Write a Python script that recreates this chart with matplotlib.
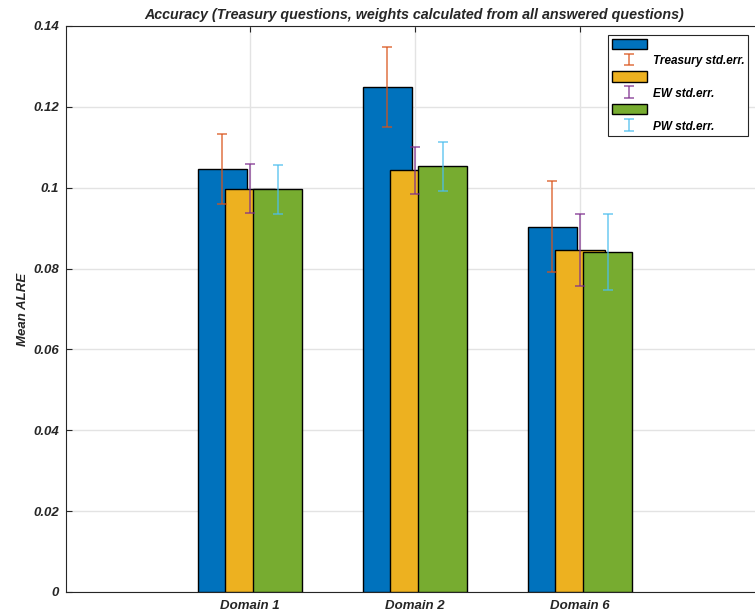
import numpy as np
import matplotlib
matplotlib.use("Agg")
import matplotlib.pyplot as plt
from matplotlib.ticker import FuncFormatter

plt.rcParams['font.family'] = ['Liberation Sans', 'DejaVu Sans']

# Mean ALRE per domain and its standard errors
domains = ['Domain 1', 'Domain 2', 'Domain 6']
treasury = [0.1046, 0.1249, 0.0904]
ew = [0.0998, 0.1043, 0.0846]
pw = [0.0996, 0.1053, 0.0841]
treasury_se = [0.0086, 0.0100, 0.0113]
ew_se = [0.0061, 0.0058, 0.0089]
pw_se = [0.0061, 0.0060, 0.0093]

series = [
    (treasury, treasury_se, '#0072BD', '#D95319', 'Treasury std.err.'),
    (ew, ew_se, '#EDB120', '#7E2F8E', 'EW std.err.'),
    (pw, pw_se, '#77AC30', '#4DBEEE', 'PW std.err.'),
]

fig = plt.figure(figsize=(7.55, 6.13), dpi=100)
ax = fig.add_axes([66 / 755, 1 - 592 / 613, 696 / 755, 566 / 613])

x = np.arange(1, len(domains) + 1)
offsets = [-0.167, 0.0, 0.167]
width = 0.30

# bars first (each group overlaps the previous one), error bars on top
bars = []
for (vals, se, fc, ec, lab), off in zip(series, offsets):
    bars.append(ax.bar(x + off, vals, width=width, color=fc, edgecolor='black',
                       linewidth=1.0, zorder=3))
errs = []
for (vals, se, fc, ec, lab), off in zip(series, offsets):
    errs.append(ax.errorbar(x + off, vals, yerr=se, fmt='none', ecolor=ec,
                            elinewidth=1.2, capsize=3.3, capthick=1.2,
                            alpha=0.75, zorder=4))

leg_handles, leg_labels = [], []
for b, e, s in zip(bars, errs, series):
    leg_handles += [b, e]
    leg_labels += ['', s[4]]

ax.set_xlim(-0.115, 1 + (762 - 250) / 165)
ax.set_ylim(0, 0.14)
ax.set_xticks(x)
ax.set_xticklabels(domains)
ax.set_yticks(np.arange(0, 0.141, 0.02))
ax.yaxis.set_major_formatter(FuncFormatter(lambda v, p: f'{v:g}'))

for lbl in ax.get_xticklabels() + ax.get_yticklabels():
    lbl.set_fontweight('bold')
    lbl.set_fontstyle('italic')
    lbl.set_fontsize(9.5)
    lbl.set_color('#262626')

ax.tick_params(direction='in', length=4, top=True, right=True, color='#262626',
               width=0.8)
ax.tick_params(axis='x', pad=6)
ax.tick_params(axis='y', pad=5)
ax.grid(True, color='#e3e3e3', linewidth=1.0, zorder=0)
ax.set_axisbelow(True)
for s in ax.spines.values():
    s.set_color('#262626')
    s.set_linewidth(0.8)

ax.set_ylabel('Mean ALRE', fontsize=9.5, fontweight='bold', style='italic',
              color='#262626', labelpad=3)
ax.set_title('Accuracy (Treasury questions, weights calculated from all answered questions)',
             fontsize=10.3, fontweight='bold', style='italic', color='#262626', pad=5)

leg = ax.legend(leg_handles, leg_labels, loc='upper left',
                bbox_to_anchor=(608 / 755, 1 - 35 / 613), bbox_transform=fig.transFigure,
                prop={'weight': 'bold', 'style': 'italic', 'size': 8.5},
                fancybox=False, framealpha=1, edgecolor='#262626',
                handlelength=3.0, handleheight=0.95, labelspacing=0.36,
                borderpad=0.3, handletextpad=0.5, borderaxespad=0)
leg.get_frame().set_linewidth(0.8)

fig.savefig('out.png', dpi=100)
